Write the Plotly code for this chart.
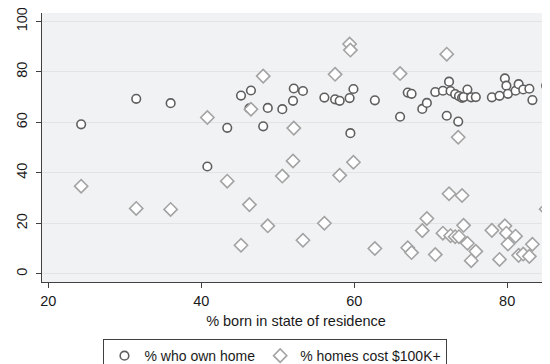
import plotly.graph_objects as go

# % born in state of residence (x), % who own home, % homes cost $100K+
born_in_state = [24.3, 31.5, 36.0, 40.8, 43.4, 45.2, 46.3, 46.5, 48.1, 48.7,
                 50.6, 52.0, 52.1, 53.3, 56.1, 57.5, 58.1, 59.4, 59.5, 59.9,
                 62.7, 66.0, 67.0, 67.5, 68.9, 69.5, 70.6, 71.6, 72.1, 72.4,
                 72.6, 73.2, 73.6, 73.7, 74.1, 74.3, 74.8, 75.3, 75.9, 78.0,
                 79.0, 79.7, 79.9, 80.1, 81.1, 81.5, 82.1, 82.9, 83.3, 85.1]
own_home = [59.2, 69.3, 67.6, 42.5, 57.8, 70.6, 65.5, 72.6, 58.4, 65.7,
            65.2, 68.5, 73.4, 72.4, 69.8, 69.1, 68.5, 69.6, 55.7, 73.2,
            68.7, 62.2, 71.8, 71.3, 65.3, 67.7, 72.0, 72.5, 62.6, 76.1,
            72.4, 71.2, 60.3, 70.4, 69.7, 70.0, 73.0, 69.9, 70.0, 69.9,
            70.5, 77.4, 74.5, 71.3, 72.5, 75.1, 73.0, 73.3, 68.8, 74.5]
homes_100k = [34.7, 25.9, 25.5, 61.9, 36.7, 11.3, 27.4, 65.2, 78.3, 19.0,
              38.7, 44.7, 57.7, 13.3, 20.0, 79.0, 39.0, 91.0, 88.6, 44.2,
              10.0, 79.3, 10.3, 8.4, 17.1, 21.9, 7.6, 16.1, 87.0, 31.7,
              15.1, 14.7, 54.1, 14.7, 31.0, 19.2, 12.1, 5.2, 8.9, 17.2,
              5.7, 19.0, 16.1, 11.8, 14.9, 7.3, 7.8, 6.9, 11.7, 25.6]

x_ticks = [20, 40, 60, 80]
y_ticks = [0, 20, 40, 60, 80, 100]

FONT = "Liberation Sans, Arial, Helvetica, sans-serif"
BG = "#f1f2f4"

fig = go.Figure()
fig.add_trace(go.Scatter(
    x=born_in_state, y=own_home, mode="markers", name="% who own home",
    marker=dict(symbol="circle", size=8.6, color="#ffffff",
                line=dict(color="#5f5f5f", width=1.6)),
    hoverinfo="skip"))
fig.add_trace(go.Scatter(
    x=born_in_state, y=homes_100k, mode="markers", name="% homes cost $100K+",
    marker=dict(symbol="diamond", size=10.2, color="#ffffff",
                line=dict(color="#a3a3a3", width=1.6)),
    hoverinfo="skip"))

# the page body has an 8px default margin, so the figure is 8px smaller
fig.update_layout(
    width=542, height=356,
    margin=dict(l=34, r=0, t=5, b=82, autoexpand=False),
    paper_bgcolor="#ffffff", plot_bgcolor=BG,
    font=dict(family=FONT, size=14.5, color="#1a1a1a"),
    showlegend=True,
    legend=dict(orientation="h", x=0.121, xanchor="left", y=-0.212, yanchor="top",
                bordercolor="#404040", borderwidth=1, bgcolor="#ffffff",
                font=dict(size=14), itemwidth=30, tracegroupgap=0),
)
fig.update_xaxes(
    range=[19.18, 85.6], tickvals=x_ticks, showgrid=False, zeroline=False,
    showline=True, linecolor="#404040", linewidth=1.3, automargin=False,
    ticks="outside", ticklen=5, tickcolor="#404040",
    title=dict(text="% born in state of residence", font=dict(size=14.5), standoff=8),
)
fig.update_yaxes(
    range=[-3.25, 103.3], tickvals=y_ticks, showgrid=True, gridcolor="#e2e3e6",
    gridwidth=1, zeroline=False, showline=True, linecolor="#404040", linewidth=1.3,
    ticks="outside", ticklen=5, tickcolor="#404040", tickangle=-90, automargin=False,
    ticklabeloverflow="allow", ticklabelstandoff=3,
)

fig.write_html("out.html")
